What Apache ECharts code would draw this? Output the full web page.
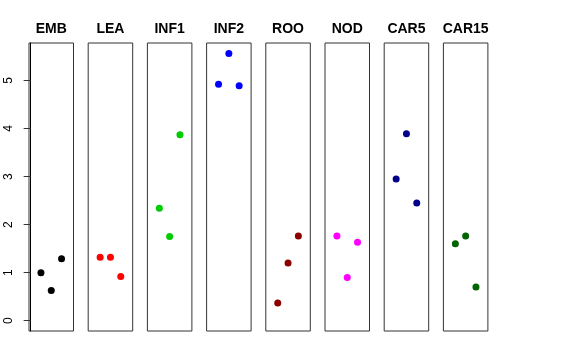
<!DOCTYPE html>
<html>
<head>
<meta charset="utf-8">
<script src="https://cdn.jsdelivr.net/npm/echarts@6/dist/echarts.min.js"></script>
<style>html,body{margin:0;padding:0;background:#fff}#c{width:576px;height:360px}</style>
</head>
<body>
<div id="c"></div>
<script>
// Data
var categories = ['EMB', 'LEA', 'INF1', 'INF2', 'ROO', 'NOD', 'CAR5', 'CAR15'];
var xPositions = [1, 2, 3];
var EMB  = [1.00, 0.63, 1.29];
var LEA  = [1.32, 1.32, 0.92];
var INF1 = [2.34, 1.75, 3.87];
var INF2 = [4.92, 5.56, 4.89];
var ROO  = [0.37, 1.20, 1.76];
var NOD  = [1.76, 0.90, 1.63];
var CAR5 = [2.95, 3.89, 2.45];
var CAR15 = [1.60, 1.76, 0.70];
var yTicks = [0, 1, 2, 3, 4, 5];
var colors = ['#000000', '#FF0000', '#00CD00', '#0000FF', '#8B0000', '#FF00FF', '#00008B', '#006400'];

var seriesValues = [EMB, LEA, INF1, INF2, ROO, NOD, CAR5, CAR15];

(function () {
  var chart = echarts.init(document.getElementById('c'), null, {renderer: 'canvas'});
  var grids = [], xAxes = [], yAxes = [], titles = [], series = [];
  var left0 = 29, step = 59.2, w = 44.5, gTop = 43, h = 288;
  categories.forEach(function (name, i) {
    var l = left0 + i * step;
    grids.push({left: l, top: gTop, width: w, height: h, show: true, borderColor: '#333', borderWidth: 1, backgroundColor: 'transparent'});
    titles.push({
      text: name, left: l + w / 2, top: 22, textAlign: 'center', padding: 0,
      textStyle: {fontFamily: 'Liberation Sans', fontWeight: 'bold', fontSize: 14, color: '#000'}
    });
    xAxes.push({type: 'value', gridIndex: i, min: -0.16, max: 4.16, show: false});
    yAxes.push({
      type: 'value', gridIndex: i, min: -0.215, max: 5.78, show: i === 0,
      splitLine: {show: false},
      axisLine: {show: i === 0, lineStyle: {color: '#000', width: 1}},
      axisTick: {show: true, length: 7, customValues: yTicks, lineStyle: {color: '#333', width: 1}},
      axisLabel: {show: true, customValues: yTicks, rotate: 90, margin: 14, fontFamily: 'Liberation Sans', fontSize: 12, color: '#000'}
    });
    series.push({
      type: 'scatter', xAxisIndex: i, yAxisIndex: i,
      data: xPositions.map(function (x, k) { return [x, seriesValues[i][k]]; }),
      symbolSize: 7, itemStyle: {color: colors[i], opacity: 1}, silent: true
    });
  });
  chart.setOption({
    animation: false,
    title: titles, grid: grids, xAxis: xAxes, yAxis: yAxes, series: series
  });
})();
</script>
</body>
</html>
